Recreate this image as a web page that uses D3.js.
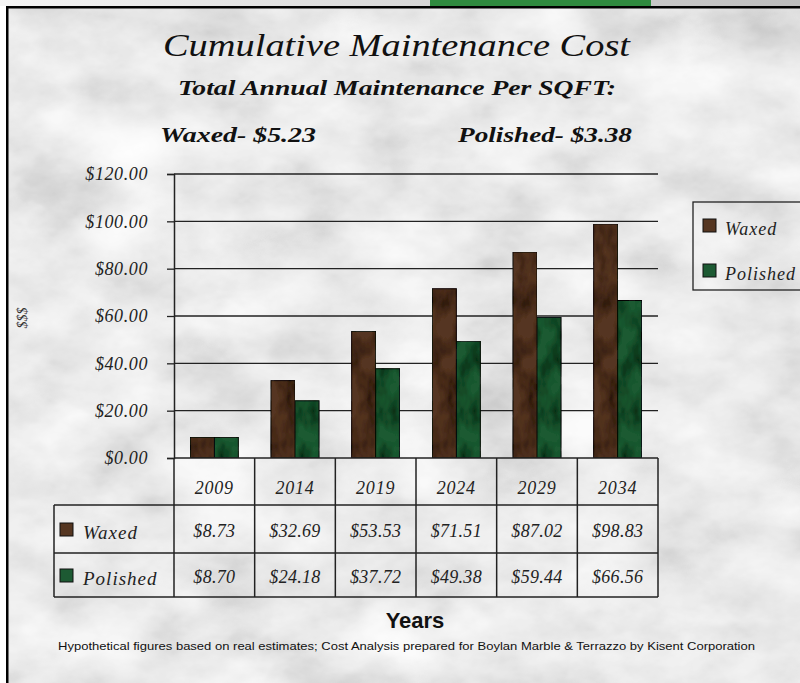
<!DOCTYPE html>
<html><head><meta charset="utf-8">
<script src="https://cdn.jsdelivr.net/npm/d3@7"></script>
<style>body{margin:0;background:#fff;overflow:hidden}svg{display:block}</style>
</head><body>
<script>
const years = ["2009","2014","2019","2024","2029","2034"];
const seriesNames = ["Waxed","Polished"];
const waxed = [8.73, 32.69, 53.53, 71.51, 87.02, 98.83];
const polished = [8.70, 24.18, 37.72, 49.38, 59.44, 66.56];
const yTicks = [0,20,40,60,80,100,120];
const colors = {Waxed:"#553621", Polished:"#1d5a33"};

const W=800,H=683;
const svg=d3.select("body").append("svg").attr("width",W).attr("height",H);
const defs=svg.append("defs");
// marble filter
const f=defs.append("filter").attr("id","marble").attr("x",0).attr("y",0).attr("width","100%").attr("height","100%");
f.append("feTurbulence").attr("type","fractalNoise").attr("baseFrequency","0.011 0.018").attr("numOctaves",5).attr("seed",7).attr("result","n");
f.append("feColorMatrix").attr("type","matrix").attr("in","n")
 .attr("values","0.33 0.33 0.33 0 0  0.33 0.33 0.33 0 0  0.33 0.33 0.33 0 0  0 0 0 0 1").attr("result","g");
const ct=f.append("feComponentTransfer").attr("in","g");
["R","G","B"].forEach(c=>ct.append("feFunc"+c).attr("type","table").attr("tableValues","1 1 0.98 0.94 0.87 0.78 0.67 0.56 0.47 0.42"));
const fb=defs.append("filter").attr("id","grain").attr("x",0).attr("y",0).attr("width","100%").attr("height","100%");
fb.append("feTurbulence").attr("type","fractalNoise").attr("baseFrequency","0.07 0.035").attr("numOctaves",3).attr("seed",3).attr("result","n");
fb.append("feColorMatrix").attr("type","matrix").attr("in","n")
 .attr("values","0 0 0 0 0  0 0 0 0 0  0 0 0 0 0  0 0 0 1.6 -0.6").attr("result","a");
fb.append("feComposite").attr("in","a").attr("in2","SourceGraphic").attr("operator","in").attr("result","c");
fb.append("feMerge").call(m=>{m.append("feMergeNode").attr("in","SourceGraphic");m.append("feMergeNode").attr("in","c");});

// top strip
const tg=defs.append("linearGradient").attr("id","tg");
tg.append("stop").attr("offset","0").attr("stop-color","#f4f4f4");
tg.append("stop").attr("offset","1").attr("stop-color","#bdbdbd");
svg.append("rect").attr("x",0).attr("y",0).attr("width",W).attr("height",6).attr("fill","url(#tg)");
svg.append("rect").attr("x",430).attr("y",0).attr("width",221).attr("height",6).attr("fill","#2f8a3f");
// background
svg.append("rect").attr("x",8).attr("y",8).attr("width",W-8).attr("height",H-8).attr("filter","url(#marble)");
svg.append("rect").attr("x",6).attr("y",6).attr("width",W).attr("height",2.5).attr("fill","#000");
svg.append("rect").attr("x",6).attr("y",6).attr("width",2.5).attr("height",H).attr("fill","#000");

const serif="'Liberation Serif','Times New Roman',serif";
// titles
svg.append("text").attr("x",163).attr("y",56).attr("textLength",467).attr("lengthAdjust","spacingAndGlyphs")
 .attr("font-family",serif).attr("font-style","italic").attr("font-size",31).attr("fill","#111").text("Cumulative Maintenance Cost");
svg.append("text").attr("x",178).attr("y",95).attr("textLength",438).attr("lengthAdjust","spacingAndGlyphs")
 .attr("font-family",serif).attr("font-style","italic").attr("font-weight","bold").attr("font-size",20).attr("fill","#111").text("Total Annual Maintenance Per SQFT:");
svg.append("text").attr("x",160).attr("y",142).attr("textLength",156).attr("lengthAdjust","spacingAndGlyphs")
 .attr("font-family",serif).attr("font-style","italic").attr("font-weight","bold").attr("font-size",21).attr("fill","#111").text("Waxed- $5.23");
svg.append("text").attr("x",458).attr("y",142).attr("textLength",174).attr("lengthAdjust","spacingAndGlyphs")
 .attr("font-family",serif).attr("font-style","italic").attr("font-weight","bold").attr("font-size",21).attr("fill","#111").text("Polished- $3.38");

// plot
const x0=174,x1=658,yTop=174,yBot=458;
const x=d3.scaleBand().domain(years).range([x0,x1]);
const xs=d3.scaleBand().domain(seriesNames).range([0,x.bandwidth()]).paddingInner(0).paddingOuter(0.68);
const y=d3.scaleLinear().domain([0,120]).range([yBot,yTop]);

const g=svg.append("g");
g.selectAll(".grid").data(yTicks.slice(1)).join("line").attr("x1",x0).attr("x2",x1)
 .attr("y1",d=>y(d)).attr("y2",d=>y(d)).attr("stroke","#222").attr("stroke-width",1.3);

const data=years.map((yr,i)=>({yr,vals:[{s:"Waxed",v:waxed[i]},{s:"Polished",v:polished[i]}]}));
const grp=g.selectAll(".grp").data(data).join("g").attr("transform",d=>`translate(${x(d.yr)},0)`);
grp.selectAll("rect").data(d=>d.vals).join("rect")
 .attr("x",d=>xs(d.s)).attr("width",xs.bandwidth()).attr("y",d=>y(d.v)).attr("height",d=>yBot-y(d.v))
 .attr("fill",d=>colors[d.s]).attr("stroke","#111").attr("stroke-width",1).attr("filter","url(#grain)");

const ax=svg.append("g").attr("transform",`translate(${x0},0)`)
 .call(d3.axisLeft(y).tickValues(yTicks).tickSize(7).tickPadding(19).tickFormat(d=>"$"+d3.format(".2f")(d)));
ax.select(".domain").attr("stroke","#222").attr("stroke-width",1.5);
ax.selectAll(".tick line").attr("stroke","#222").attr("stroke-width",1.3);
ax.selectAll("text").attr("font-family",serif).attr("font-style","italic").attr("font-size",18).attr("fill","#222").attr("letter-spacing","0.6px");

// y title
svg.append("text").attr("transform","translate(27,318) rotate(-90)").attr("text-anchor","middle")
 .attr("font-family",serif).attr("font-style","italic").attr("font-size",14).attr("fill","#333").text("$$$");

// data table
const rows=[{name:"Waxed",vals:waxed},{name:"Polished",vals:polished}];
const rowY=[458,505,553,597];
const tl=svg.append("g").attr("stroke","#222").attr("stroke-width",1.5);
tl.append("line").attr("x1",x0).attr("x2",x1).attr("y1",rowY[0]).attr("y2",rowY[0]);
[1,2,3].forEach(i=>tl.append("line").attr("x1",54).attr("x2",x1).attr("y1",rowY[i]).attr("y2",rowY[i]));
tl.append("line").attr("x1",54).attr("x2",54).attr("y1",rowY[1]).attr("y2",rowY[3]);
years.forEach(yr=>tl.append("line").attr("x1",x(yr)).attr("x2",x(yr)).attr("y1",rowY[0]).attr("y2",rowY[3]));
tl.append("line").attr("x1",x1).attr("x2",x1).attr("y1",rowY[0]).attr("y2",rowY[3]);

svg.selectAll(".yr").data(years).join("text").attr("x",d=>x(d)+x.bandwidth()/2).attr("y",494)
 .attr("text-anchor","middle").attr("font-family",serif).attr("font-style","italic").attr("font-size",18).attr("fill","#222").attr("letter-spacing","0.8px").text(d=>d);
rows.forEach((r,ri)=>{
  const cy=(rowY[ri+1]+rowY[ri+2])/2;
  svg.append("rect").attr("x",60).attr("y",cy-6).attr("width",13).attr("height",13).attr("fill",colors[r.name]).attr("stroke","#111");
  svg.append("text").attr("x",83).attr("y",cy+10).attr("font-family",serif).attr("font-style","italic").attr("font-size",19).attr("fill","#222").attr("letter-spacing","1px").text(r.name);
  svg.selectAll(".v"+ri).data(r.vals).join("text").attr("x",(d,i)=>x(years[i])+x.bandwidth()/2).attr("y",cy+8)
   .attr("text-anchor","middle").attr("font-family",serif).attr("font-style","italic").attr("font-size",18).attr("fill","#222").attr("letter-spacing","0.3px")
   .text(d=>"$"+d3.format(".2f")(d));
});

// legend
svg.append("rect").attr("x",693).attr("y",202).attr("width",120).attr("height",88).attr("fill","none").attr("stroke","#222").attr("stroke-width",1.3);
seriesNames.forEach((s,i)=>{
  const cy=i?270:225;
  svg.append("rect").attr("x",703).attr("y",cy-6).attr("width",13).attr("height",13).attr("fill",colors[s]).attr("stroke","#111");
  svg.append("text").attr("x",725).attr("y",cy+10).attr("font-family",serif).attr("font-style","italic").attr("font-size",18).attr("fill","#222").attr("letter-spacing","1px").text(s);
});

// x title & footnote
svg.append("text").attr("x",415).attr("y",628).attr("text-anchor","middle").attr("font-family","'Liberation Sans',Arial,sans-serif")
 .attr("font-weight","bold").attr("font-size",22).attr("fill","#111").text("Years");
svg.append("text").attr("x",58).attr("y",650).attr("textLength",697).attr("lengthAdjust","spacingAndGlyphs")
 .attr("font-family","'Liberation Sans Narrow','Liberation Sans',Arial,sans-serif").attr("font-size",11.5).attr("fill","#111")
 .text("Hypothetical figures based on real estimates; Cost Analysis prepared for Boylan Marble & Terrazzo by Kisent Corporation");
</script>
</body></html>
